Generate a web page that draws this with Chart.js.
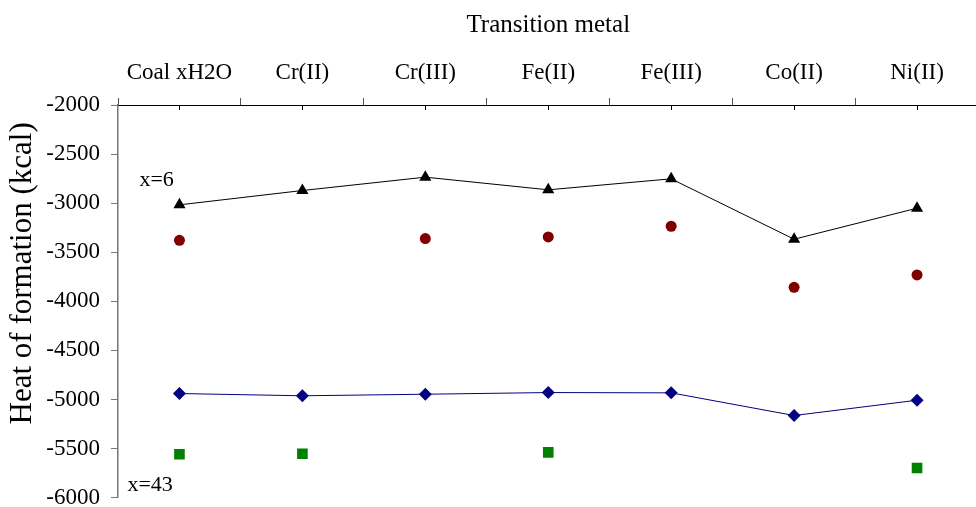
<!DOCTYPE html>
<html>
<head>
<meta charset="utf-8">
<script src="https://cdn.jsdelivr.net/npm/chart.js@4/dist/chart.umd.min.js"></script>
<style>
    html, body { margin: 0; padding: 0; background: #fff; overflow: hidden; }
    #wrap { width: 986px; height: 511px; }
</style>
</head>
<body>
<div id="wrap"><canvas id="chart"></canvas></div>
<script>
// categories along the top axis
const metals = ["Coal xH2O", "Cr(II)", "Cr(III)", "Fe(II)", "Fe(III)", "Co(II)", "Ni(II)"];

// heat of formation, kcal
const hydrate6 = [-3017, -2871, -2735, -2864, -2752, -3367, -3051];
const hydrate6Alt = [-3378, null, -3361, -3344, -3235, -3857, -3731];
const hydrate43 = [-4939, -4962, -4946, -4929, -4932, -5163, -5007];
const hydrate43Alt = [-5557, -5553, null, -5538, null, null, -5697];

// y ticks
const yMin = -6000;
const yMax = -2000;
const yStep = 500;

// side notes, anchored to a category and a value
const notes = [
    { text: "x=6", category: 0, value: -2762, dx: -40 },
    { text: "x=43", category: 0, value: -5874, dx: -52 },
];

const serif = "'Liberation Serif', 'Times New Roman', serif";

const extras = {
    id: "extras",
    afterDraw(chart) {
        const { ctx, chartArea, scales } = chart;
        const x = scales.x;
        const y = scales.y;
        ctx.save();

        // small ticks under the top axis at each category
        ctx.strokeStyle = "#000";
        ctx.lineWidth = 1;
        ctx.beginPath();
        metals.forEach((m, i) => {
            const px = Math.round(x.getPixelForValue(i)) + 0.5;
            ctx.moveTo(px, chartArea.top);
            ctx.lineTo(px, chartArea.top + 5);
        });
        ctx.stroke();

        // notes
        ctx.fillStyle = "#000";
        ctx.font = "22px " + serif;
        ctx.textAlign = "left";
        ctx.textBaseline = "middle";
        notes.forEach((n) => {
            ctx.fillText(n.text, x.getPixelForValue(n.category) + n.dx, y.getPixelForValue(n.value));
        });

        // y axis title
        ctx.translate(23, (chartArea.top + chartArea.bottom) / 2 - 28);
        ctx.rotate(-Math.PI / 2);
        ctx.font = "31px " + serif;
        ctx.textAlign = "center";
        ctx.fillText("Heat of formation (kcal)", 0, 0);
        ctx.restore();
    },
};

new Chart(document.getElementById("chart"), {
    type: "line",
    data: {
        labels: metals,
        datasets: [
            {
                label: "x=6",
                data: hydrate6,
                borderColor: "#000",
                backgroundColor: "#000",
                borderWidth: 1,
                pointStyle: "triangle",
                pointRadius: 7,
                pointBorderWidth: 0,
                tension: 0,
            },
            {
                label: "x=6 (2)",
                data: hydrate6Alt,
                showLine: false,
                backgroundColor: "#800000",
                borderColor: "#800000",
                pointStyle: "circle",
                pointRadius: 5.5,
                pointBorderWidth: 0,
            },
            {
                label: "x=43",
                data: hydrate43,
                borderColor: "#000080",
                backgroundColor: "#000080",
                borderWidth: 1,
                pointStyle: "rectRot",
                pointRadius: 6.5,
                pointBorderWidth: 0,
                tension: 0,
            },
            {
                label: "x=43 (2)",
                data: hydrate43Alt,
                showLine: false,
                backgroundColor: "#008000",
                borderColor: "#008000",
                pointStyle: "rect",
                pointRadius: 7.5,
                pointBorderWidth: 0,
            },
        ],
    },
    options: {
        responsive: true,
        maintainAspectRatio: false,
        animation: false,
        layout: { padding: 0 },
        plugins: {
            legend: { display: false },
            tooltip: { enabled: false },
        },
        scales: {
            x: {
                type: "category",
                position: "top",
                offset: true,
                afterFit: (scale) => { scale.height = 105; },
                grid: {
                    offset: true,
                    drawOnChartArea: false,
                    tickLength: 7,
                    color: "#555",
                },
                border: { display: true, color: "#000", width: 1 },
                ticks: {
                    color: "#000",
                    padding: 11,
                    maxRotation: 0,
                    autoSkip: false,
                    font: { family: serif, size: 23 },
                },
                title: {
                    display: true,
                    text: "Transition metal",
                    color: "#000",
                    padding: { top: 10, bottom: 0 },
                    font: { family: serif, size: 25 },
                },
            },
            y: {
                min: yMin,
                max: yMax,
                afterFit: (scale) => { scale.width = 118; },
                grid: {
                    drawOnChartArea: false,
                    tickLength: 7,
                    color: "#777",
                },
                border: { display: true, color: "#777", width: 1.5 },
                ticks: {
                    stepSize: yStep,
                    color: "#000",
                    padding: 11,
                    callback: (v) => String(v),
                    font: { family: serif, size: 23, lineHeight: 0.2 },
                },
            },
        },
    },
    plugins: [extras],
});
</script>
</body>
</html>
